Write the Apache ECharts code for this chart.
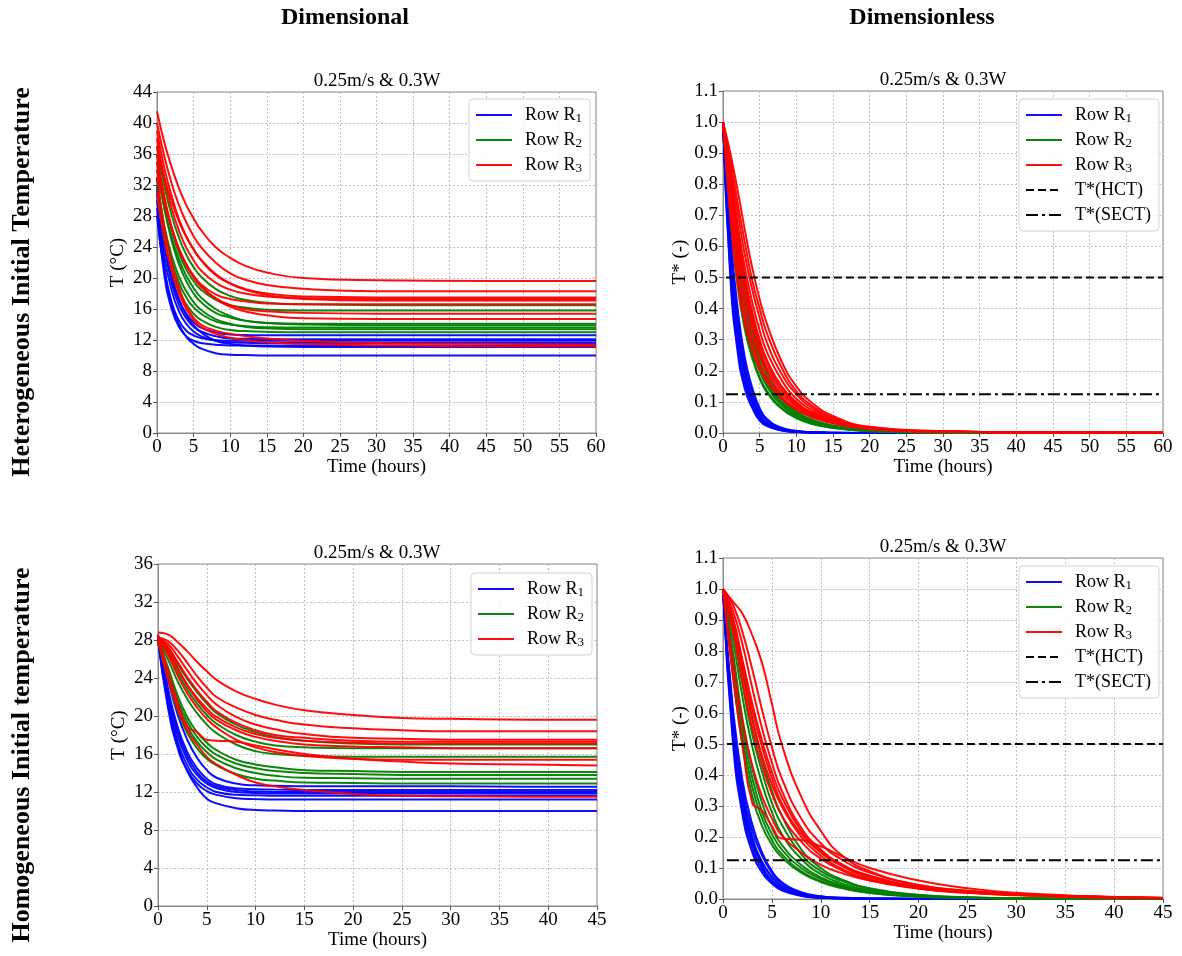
<!DOCTYPE html>
<html>
<head>
<meta charset="utf-8">
<script src="https://cdn.jsdelivr.net/npm/echarts/dist/echarts.min.js"></script>
<style>
html,body{margin:0;padding:0;background:#fff;}
#chart{width:1182px;height:956px;}
</style>
</head>
<body>
<div id="chart"></div>
<script>
// Sampling times (hours)
const heterTime = [0, 1, 2, 3, 4, 5, 6, 8, 10, 12, 15, 20, 30, 45, 60];
const homoTime  = [0, 1, 2, 3, 4, 5, 6, 8, 10, 12, 15, 20, 25, 30, 38, 45];

// Heterogeneous initial temperature, dimensional T (°C)
const hetDimRow1 = [
  [33.0, 25.0, 20.1, 17.2, 15.4, 14.3, 13.6, 13.0, 12.7, 12.65, 12.6, 12.6, 12.6, 12.6, 12.6],
  [32.0, 24.2, 19.4, 16.5, 14.8, 13.7, 13.1, 12.5, 12.2, 12.15, 12.1, 12.1, 12.1, 12.1, 12.1],
  [31.0, 21.7, 16.9, 14.5, 13.2, 12.6, 12.25, 12.0, 11.9, 11.9, 11.9, 11.9, 11.9, 11.9, 11.9],
  [30.0, 22.8, 18.4, 15.7, 14.1, 13.1, 12.5, 11.9, 11.7, 11.65, 11.6, 11.6, 11.6, 11.6, 11.6],
  [29.0, 20.4, 16.0, 13.7, 12.5, 11.9, 11.6, 11.4, 11.3, 11.3, 11.3, 11.3, 11.3, 11.3, 11.3],
  [31.5, 24.8, 20.3, 17.2, 15.2, 13.9, 13.0, 11.9, 11.5, 11.3, 11.15, 11.1, 11.1, 11.1, 11.1],
  [28.0, 20.9, 16.6, 14.0, 12.4, 11.5, 10.9, 10.3, 10.1, 10.05, 10.0, 10.0, 10.0, 10.0, 10.0]
];
const hetDimRow2 = [
  [37.0, 31.9, 28.1, 25.2, 23.0, 21.4, 20.2, 18.6, 17.7, 17.2, 16.8, 16.6, 16.5, 16.5, 16.5],
  [36.0, 30.3, 26.2, 23.2, 21.1, 19.6, 18.5, 17.2, 16.5, 16.2, 15.9, 15.8, 15.8, 15.8, 15.8],
  [35.0, 29.1, 24.8, 21.8, 19.6, 18.0, 16.9, 15.5, 14.9, 14.5, 14.2, 14.1, 14.1, 14.1, 14.1],
  [34.0, 29.0, 25.3, 22.4, 20.3, 18.7, 17.5, 16.0, 15.1, 14.5, 14.2, 14.0, 13.9, 13.9, 13.9],
  [33.0, 26.6, 22.3, 19.4, 17.5, 16.2, 15.4, 14.4, 14.0, 13.8, 13.65, 13.6, 13.6, 13.6, 13.6],
  [32.0, 26.7, 22.9, 20.2, 18.3, 16.9, 15.9, 14.7, 14.1, 13.7, 13.5, 13.4, 13.4, 13.4, 13.4],
  [31.0, 25.1, 21.1, 18.4, 16.6, 15.4, 14.6, 13.7, 13.3, 13.15, 13.05, 13.0, 13.0, 13.0, 13.0]
];
const hetDimRow3 = [
  [41.5, 37.5, 34.3, 31.6, 29.4, 27.7, 26.2, 24.0, 22.6, 21.6, 20.7, 20.0, 19.7, 19.6, 19.6],
  [40.0, 35.7, 32.2, 29.4, 27.2, 25.4, 24.0, 22.0, 20.6, 19.8, 19.1, 18.6, 18.3, 18.3, 18.3],
  [39.0, 34.2, 30.6, 27.6, 25.4, 23.7, 22.3, 20.4, 19.3, 18.6, 18.0, 17.6, 17.5, 17.5, 17.5],
  [38.0, 32.8, 29.0, 26.1, 23.9, 22.3, 21.0, 19.4, 18.5, 18.0, 17.6, 17.4, 17.3, 17.3, 17.3],
  [37.0, 33.0, 29.9, 27.3, 25.3, 23.7, 22.4, 20.5, 19.3, 18.5, 17.8, 17.3, 17.1, 17.1, 17.1],
  [36.0, 30.5, 26.6, 23.7, 21.7, 20.3, 19.2, 17.9, 17.3, 17.0, 16.7, 16.6, 16.6, 16.6, 16.6],
  [35.0, 30.1, 26.5, 23.7, 21.7, 20.1, 18.9, 17.4, 16.5, 16.0, 15.7, 15.5, 15.4, 15.4, 15.4],
  [34.0, 29.7, 26.4, 23.8, 21.8, 20.2, 19.0, 17.3, 16.3, 15.7, 15.2, 14.8, 14.7, 14.7, 14.7],
  [33.0, 26.5, 22.0, 18.8, 16.4, 14.9, 14.0, 13.2, 12.8, 12.5, 12.2, 11.9, 11.6, 11.5, 11.4],
  [31.0, 25.0, 21.0, 18.0, 16.0, 14.6, 13.7, 12.8, 12.3, 12.0, 11.7, 11.5, 11.3, 11.2, 11.2]
];

// Heterogeneous initial temperature, dimensionless T* (-)
const hetStarRow1 = [
  [1.0, 0.62, 0.37, 0.22, 0.13, 0.07, 0.04, 0.015, 0.006, 0.003, 0.001, 0, 0, 0, 0],
  [1.0, 0.59, 0.35, 0.20, 0.115, 0.06, 0.033, 0.012, 0.005, 0.002, 0.001, 0, 0, 0, 0],
  [1.0, 0.55, 0.31, 0.17, 0.10, 0.052, 0.028, 0.010, 0.004, 0.002, 0, 0, 0, 0, 0],
  [1.0, 0.52, 0.28, 0.155, 0.09, 0.045, 0.025, 0.009, 0.003, 0.001, 0, 0, 0, 0, 0],
  [1.0, 0.50, 0.26, 0.14, 0.08, 0.04, 0.022, 0.008, 0.003, 0.001, 0, 0, 0, 0, 0],
  [1.0, 0.64, 0.40, 0.24, 0.145, 0.08, 0.045, 0.017, 0.007, 0.003, 0.001, 0, 0, 0, 0],
  [1.0, 0.57, 0.33, 0.19, 0.105, 0.055, 0.030, 0.011, 0.004, 0.002, 0, 0, 0, 0, 0]
];
const hetStarRow2 = [
  [1.0, 0.84, 0.66, 0.49, 0.37, 0.27, 0.20, 0.115, 0.07, 0.045, 0.024, 0.010, 0.002, 0.001, 0],
  [1.0, 0.80, 0.60, 0.44, 0.32, 0.23, 0.17, 0.10, 0.062, 0.040, 0.022, 0.009, 0.002, 0.001, 0],
  [1.0, 0.78, 0.57, 0.41, 0.30, 0.22, 0.16, 0.095, 0.058, 0.037, 0.020, 0.008, 0.002, 0, 0],
  [1.0, 0.75, 0.53, 0.38, 0.27, 0.20, 0.15, 0.088, 0.054, 0.034, 0.018, 0.007, 0.002, 0, 0],
  [1.0, 0.72, 0.50, 0.35, 0.25, 0.18, 0.135, 0.080, 0.050, 0.032, 0.017, 0.006, 0.001, 0, 0],
  [1.0, 0.70, 0.47, 0.33, 0.24, 0.175, 0.13, 0.078, 0.048, 0.030, 0.016, 0.006, 0.001, 0, 0],
  [1.0, 0.82, 0.63, 0.47, 0.34, 0.25, 0.185, 0.110, 0.067, 0.043, 0.023, 0.009, 0.002, 0.001, 0]
];
const hetStarRow3 = [
  [1.0, 0.90, 0.78, 0.65, 0.53, 0.43, 0.35, 0.23, 0.15, 0.10, 0.055, 0.020, 0.006, 0.002, 0.001],
  [1.0, 0.88, 0.74, 0.61, 0.49, 0.40, 0.32, 0.21, 0.135, 0.09, 0.050, 0.019, 0.006, 0.002, 0.001],
  [1.0, 0.86, 0.71, 0.57, 0.46, 0.37, 0.29, 0.19, 0.125, 0.083, 0.047, 0.018, 0.005, 0.002, 0.001],
  [1.0, 0.84, 0.67, 0.53, 0.42, 0.33, 0.26, 0.17, 0.11, 0.075, 0.043, 0.017, 0.005, 0.002, 0.001],
  [1.0, 0.82, 0.64, 0.50, 0.39, 0.30, 0.235, 0.15, 0.10, 0.068, 0.040, 0.016, 0.005, 0.002, 0.001],
  [1.0, 0.79, 0.60, 0.46, 0.35, 0.27, 0.21, 0.135, 0.09, 0.062, 0.036, 0.015, 0.005, 0.002, 0.001],
  [1.0, 0.76, 0.56, 0.42, 0.32, 0.25, 0.195, 0.125, 0.085, 0.058, 0.034, 0.014, 0.004, 0.002, 0.001],
  [1.0, 0.73, 0.52, 0.38, 0.29, 0.22, 0.175, 0.115, 0.078, 0.054, 0.032, 0.013, 0.004, 0.002, 0.001],
  [1.0, 0.70, 0.48, 0.35, 0.265, 0.205, 0.165, 0.11, 0.075, 0.052, 0.031, 0.013, 0.004, 0.002, 0.001],
  [1.0, 0.80, 0.62, 0.48, 0.37, 0.29, 0.225, 0.145, 0.095, 0.065, 0.038, 0.015, 0.005, 0.002, 0.001]
];

// Homogeneous initial temperature, dimensional T (°C)
const homDimRow1 = [
  [28.5, 24.0, 20.2, 17.5, 15.6, 14.3, 13.5, 12.9, 12.7, 12.65, 12.6, 12.6, 12.6, 12.6, 12.55, 12.55],
  [28.4, 23.0, 18.9, 16.2, 14.5, 13.4, 12.8, 12.4, 12.3, 12.25, 12.2, 12.2, 12.2, 12.2, 12.2, 12.2],
  [28.3, 22.3, 18.0, 15.4, 13.8, 12.9, 12.4, 12.0, 11.9, 11.85, 11.85, 11.85, 11.85, 11.85, 11.85, 11.85],
  [28.2, 21.6, 17.3, 14.8, 13.3, 12.5, 12.0, 11.7, 11.65, 11.6, 11.6, 11.6, 11.6, 11.6, 11.6, 11.6],
  [28.1, 21.0, 16.7, 14.3, 12.9, 12.1, 11.7, 11.35, 11.25, 11.2, 11.2, 11.2, 11.2, 11.2, 11.2, 11.2],
  [28.0, 21.5, 17.0, 14.2, 12.5, 11.3, 10.8, 10.3, 10.1, 10.05, 10.0, 10.0, 10.0, 10.0, 10.0, 10.0],
  [28.6, 22.7, 18.5, 15.8, 14.1, 13.1, 12.6, 12.2, 12.05, 12.0, 12.0, 12.0, 12.0, 12.0, 12.0, 12.0]
];
const homDimRow2 = [
  [28.3, 27.2, 25.5, 23.9, 22.5, 21.3, 20.3, 19.1, 18.3, 17.8, 17.4, 17.1, 17.0, 17.0, 17.0, 17.0],
  [28.2, 26.6, 24.6, 22.8, 21.3, 20.1, 19.2, 18.0, 17.3, 16.9, 16.7, 16.6, 16.6, 16.6, 16.6, 16.6],
  [28.1, 26.0, 23.7, 21.8, 20.3, 19.1, 18.2, 17.0, 16.3, 16.0, 15.8, 15.7, 15.7, 15.7, 15.7, 15.7],
  [28.0, 25.2, 22.2, 19.9, 18.3, 17.2, 16.4, 15.4, 14.9, 14.6, 14.3, 14.2, 14.1, 14.1, 14.1, 14.1],
  [28.0, 24.8, 21.7, 19.4, 17.8, 16.7, 15.9, 15.0, 14.5, 14.2, 14.0, 13.9, 13.8, 13.8, 13.8, 13.8],
  [27.9, 24.5, 21.3, 18.9, 17.3, 16.2, 15.4, 14.5, 14.0, 13.7, 13.5, 13.45, 13.4, 13.4, 13.4, 13.4],
  [27.8, 24.0, 20.6, 18.2, 16.6, 15.5, 14.8, 13.9, 13.4, 13.2, 13.0, 12.95, 12.9, 12.9, 12.9, 12.9]
];
const homDimRow3 = [
  [28.8, 28.6, 27.8, 26.8, 25.7, 24.7, 23.8, 22.6, 21.8, 21.2, 20.6, 20.1, 19.8, 19.7, 19.6, 19.6],
  [28.3, 27.9, 26.9, 25.6, 24.2, 23.0, 22.0, 20.9, 20.1, 19.6, 19.1, 18.7, 18.5, 18.4, 18.4, 18.4],
  [28.2, 27.6, 26.3, 24.8, 23.4, 22.2, 21.2, 19.9, 19.1, 18.6, 18.1, 17.7, 17.6, 17.5, 17.5, 17.5],
  [28.3, 27.3, 25.7, 24.1, 22.7, 21.5, 20.5, 19.3, 18.5, 18.0, 17.7, 17.4, 17.3, 17.3, 17.3, 17.3],
  [28.0, 26.8, 25.0, 23.3, 21.9, 20.8, 19.9, 18.8, 18.1, 17.7, 17.4, 17.2, 17.1, 17.1, 17.1, 17.1],
  [28.2, 26.5, 24.3, 22.4, 20.9, 19.7, 18.8, 17.5, 16.7, 16.2, 15.8, 15.5, 15.4, 15.4, 15.4, 15.4],
  [28.5, 24.8, 21.5, 18.9, 18.3, 17.5, 17.4, 17.3, 16.9, 16.5, 16.0, 15.5, 15.2, 15.0, 14.9, 14.8],
  [28.0, 24.0, 20.8, 18.5, 17.0, 15.7, 14.9, 13.8, 13.0, 12.6, 12.2, 11.8, 11.6, 11.55, 11.5, 11.5],
  [28.1, 27.0, 25.1, 23.2, 21.7, 20.5, 19.6, 18.5, 17.8, 17.4, 17.0, 16.8, 16.7, 16.6, 16.6, 16.6]
];

// Homogeneous initial temperature, dimensionless T* (-)
const homStarRow1 = [
  [1.0, 0.60, 0.36, 0.22, 0.14, 0.085, 0.05, 0.02, 0.008, 0.004, 0.002, 0.001, 0, 0, 0, 0],
  [1.0, 0.57, 0.33, 0.19, 0.115, 0.07, 0.04, 0.015, 0.006, 0.003, 0.001, 0, 0, 0, 0, 0],
  [1.0, 0.55, 0.31, 0.18, 0.105, 0.06, 0.035, 0.013, 0.005, 0.002, 0.001, 0, 0, 0, 0, 0],
  [1.0, 0.53, 0.29, 0.165, 0.095, 0.055, 0.032, 0.011, 0.004, 0.002, 0, 0, 0, 0, 0, 0],
  [1.0, 0.51, 0.27, 0.15, 0.085, 0.05, 0.028, 0.010, 0.004, 0.002, 0, 0, 0, 0, 0, 0],
  [1.0, 0.62, 0.38, 0.24, 0.15, 0.09, 0.055, 0.022, 0.009, 0.004, 0.002, 0.001, 0, 0, 0, 0],
  [1.0, 0.58, 0.34, 0.20, 0.12, 0.073, 0.043, 0.017, 0.007, 0.003, 0.001, 0, 0, 0, 0, 0]
];
const homStarRow2 = [
  [1.0, 0.90, 0.74, 0.58, 0.45, 0.35, 0.27, 0.16, 0.10, 0.065, 0.035, 0.014, 0.006, 0.003, 0.001, 0],
  [1.0, 0.87, 0.69, 0.53, 0.41, 0.31, 0.24, 0.145, 0.09, 0.06, 0.032, 0.012, 0.005, 0.002, 0.001, 0],
  [1.0, 0.84, 0.65, 0.49, 0.37, 0.28, 0.21, 0.13, 0.08, 0.052, 0.028, 0.011, 0.004, 0.002, 0, 0],
  [1.0, 0.80, 0.58, 0.42, 0.31, 0.23, 0.175, 0.11, 0.07, 0.046, 0.025, 0.010, 0.004, 0.002, 0, 0],
  [1.0, 0.78, 0.55, 0.39, 0.28, 0.21, 0.16, 0.10, 0.065, 0.042, 0.023, 0.009, 0.004, 0.002, 0, 0],
  [1.0, 0.76, 0.52, 0.36, 0.26, 0.19, 0.145, 0.09, 0.058, 0.038, 0.020, 0.008, 0.003, 0.001, 0, 0],
  [1.0, 0.73, 0.49, 0.33, 0.235, 0.175, 0.135, 0.085, 0.055, 0.036, 0.019, 0.007, 0.003, 0.001, 0, 0]
];
const homStarRow3 = [
  [1.0, 0.96, 0.92, 0.85, 0.76, 0.63, 0.50, 0.33, 0.22, 0.145, 0.09, 0.045, 0.025, 0.014, 0.006, 0.003],
  [1.0, 0.95, 0.86, 0.74, 0.61, 0.49, 0.39, 0.26, 0.18, 0.13, 0.085, 0.045, 0.027, 0.016, 0.007, 0.003],
  [1.0, 0.93, 0.82, 0.68, 0.55, 0.44, 0.35, 0.23, 0.16, 0.115, 0.075, 0.04, 0.025, 0.015, 0.007, 0.003],
  [1.0, 0.91, 0.77, 0.63, 0.51, 0.41, 0.33, 0.22, 0.155, 0.11, 0.07, 0.038, 0.024, 0.015, 0.007, 0.003],
  [1.0, 0.89, 0.73, 0.58, 0.46, 0.37, 0.30, 0.20, 0.14, 0.10, 0.065, 0.035, 0.022, 0.014, 0.006, 0.003],
  [1.0, 0.87, 0.70, 0.55, 0.43, 0.34, 0.27, 0.185, 0.13, 0.095, 0.06, 0.033, 0.02, 0.013, 0.006, 0.003],
  [1.0, 0.72, 0.50, 0.31, 0.285, 0.235, 0.195, 0.19, 0.17, 0.14, 0.10, 0.06, 0.035, 0.02, 0.008, 0.003],
  [1.0, 0.77, 0.57, 0.43, 0.33, 0.26, 0.205, 0.15, 0.11, 0.085, 0.06, 0.035, 0.02, 0.012, 0.005, 0.002],
  [1.0, 0.90, 0.76, 0.61, 0.49, 0.39, 0.31, 0.21, 0.15, 0.11, 0.075, 0.04, 0.026, 0.016, 0.008, 0.004]
];

// Threshold levels of the dimensionless temperature
const hctLevel = 0.5;
const sectLevel = 0.125;
const thresholdStart = 0.4;

const rowNames = ['Row R1', 'Row R2', 'Row R3'];
const rowColors = ['#0000ff', '#008000', '#ff0000'];
const panelTitle = '0.25m/s & 0.3W';
const serif = '"Liberation Serif", "DejaVu Serif", serif';

const panels = [
  { grid: { left: 157, top: 92, width: 439, height: 341 }, time: heterTime, rows: [hetDimRow1, hetDimRow2, hetDimRow3],
    xMax: 60, yMax: 44, yInterval: 4, yDigits: 0, yName: 'T (°C)', yNameGap: 29, thresholds: false,
    titleX: 377, titleY: 81, legend: { left: 469, top: 99 } },
  { grid: { left: 723, top: 91, width: 440, height: 342 }, time: heterTime, rows: [hetStarRow1, hetStarRow2, hetStarRow3],
    xMax: 60, yMax: 1.1, yInterval: 0.1, yDigits: 1, yName: 'T* (-)', yNameGap: 33, thresholds: true,
    titleX: 943, titleY: 80, legend: { left: 1019, top: 99 } },
  { grid: { left: 158, top: 564, width: 439, height: 342 }, time: homoTime, rows: [homDimRow1, homDimRow2, homDimRow3],
    xMax: 45, yMax: 36, yInterval: 4, yDigits: 0, yName: 'T (°C)', yNameGap: 29, thresholds: false,
    titleX: 377, titleY: 553, legend: { left: 471, top: 573 } },
  { grid: { left: 723, top: 558, width: 440, height: 341 }, time: homoTime, rows: [homStarRow1, homStarRow2, homStarRow3],
    xMax: 45, yMax: 1.1, yInterval: 0.1, yDigits: 1, yName: 'T* (-)', yNameGap: 33, thresholds: true,
    titleX: 943, titleY: 547, legend: { left: 1019, top: 566 } }
];

const axisColor = '#8a8a8a';
const gridLine = { show: true, lineStyle: { color: '#b0b0b0', width: 0.8, type: [2, 2] } };
const labelStyle = { color: '#000', fontFamily: serif, fontSize: 19 };

const grids = [], xAxes = [], yAxes = [], series = [], legends = [], graphics = [];

panels.forEach((p, k) => {
  grids.push(Object.assign({ show: true, borderColor: axisColor, borderWidth: 1, backgroundColor: '#fff' }, p.grid));
  xAxes.push({
    type: 'value', gridIndex: k, min: 0, max: p.xMax, interval: 5,
    name: 'Time (hours)', nameLocation: 'middle', nameGap: 24,
    nameTextStyle: labelStyle,
    axisLine: { show: true, onZero: false, lineStyle: { color: axisColor } },
    axisTick: { show: true, length: 4, lineStyle: { color: '#555' } },
    axisLabel: Object.assign({ margin: 5 }, labelStyle),
    splitLine: gridLine
  });
  yAxes.push({
    type: 'value', gridIndex: k, min: 0, max: p.yMax, interval: p.yInterval,
    name: p.yName, nameLocation: 'middle', nameGap: p.yNameGap, nameRotate: 90,
    nameTextStyle: labelStyle,
    axisLine: { show: true, onZero: false, lineStyle: { color: axisColor } },
    axisTick: { show: true, length: 4, lineStyle: { color: '#555' } },
    axisLabel: Object.assign({ margin: 5, formatter: v => v.toFixed(p.yDigits) }, labelStyle),
    splitLine: gridLine
  });

  p.rows.forEach((group, r) => {
    group.forEach(vals => {
      series.push({
        type: 'line', name: rowNames[r], xAxisIndex: k, yAxisIndex: k,
        data: p.time.map((t, i) => [t, vals[i]]),
        symbol: 'none', showSymbol: false, smooth: 0.5,
        lineStyle: { color: rowColors[r], width: 2, opacity: 0.95 },
        itemStyle: { color: rowColors[r] },
        silent: true, z: 2 + r
      });
    });
  });

  const legendNames = rowNames.slice();
  if (p.thresholds) {
    series.push({
      type: 'line', name: 'T*(HCT)', xAxisIndex: k, yAxisIndex: k,
      data: [[thresholdStart, hctLevel], [p.xMax, hctLevel]],
      symbol: 'none', lineStyle: { color: '#000', width: 2, type: [8, 4] },
      itemStyle: { color: '#000' }, silent: true, z: 6
    });
    series.push({
      type: 'line', name: 'T*(SECT)', xAxisIndex: k, yAxisIndex: k,
      data: [[thresholdStart, sectLevel], [p.xMax, sectLevel]],
      symbol: 'none', lineStyle: { color: '#000', width: 2, type: [12, 4, 3, 4] },
      itemStyle: { color: '#000' }, silent: true, z: 6
    });
    legendNames.push('T*(HCT)', 'T*(SECT)');
  }

  legends.push({
    left: p.legend.left, top: p.legend.top, orient: 'vertical',
    data: legendNames, selectedMode: false,
    itemWidth: 36, itemHeight: 14, itemGap: 5,
    padding: [6, 8, 6, 6],
    borderColor: '#d4d4d4', borderWidth: 1, borderRadius: 4,
    backgroundColor: 'rgba(255,255,255,0.85)',
    itemStyle: { opacity: 0 },
    lineStyle: { width: 2 },
    formatter: name => name.startsWith('Row R') ? 'Row R{sub|' + name.slice(5) + '}' : name,
    textStyle: {
      color: '#000', fontFamily: serif, fontSize: 18, lineHeight: 20, padding: [0, 0, 0, 8],
      rich: { sub: { fontFamily: serif, fontSize: 13, lineHeight: 9, verticalAlign: 'bottom', color: '#000' } }
    }
  });

  graphics.push({
    type: 'text', x: p.titleX, y: p.titleY, silent: true,
    style: { text: panelTitle, font: '19px ' + serif, fill: '#000', textAlign: 'center', textVerticalAlign: 'middle' }
  });
});

// Column headers and row labels
const headerFont = 'bold 24px ' + serif;
const rowLabelFont = 'bold 26px ' + serif;
graphics.push(
  { type: 'text', x: 345, y: 18, silent: true, style: { text: 'Dimensional', font: headerFont, fill: '#000', textAlign: 'center', textVerticalAlign: 'middle' } },
  { type: 'text', x: 922, y: 18, silent: true, style: { text: 'Dimensionless', font: headerFont, fill: '#000', textAlign: 'center', textVerticalAlign: 'middle' } },
  { type: 'text', x: 22, y: 282, rotation: Math.PI / 2, silent: true, style: { text: 'Heterogeneous Initial Temperature', font: rowLabelFont, fill: '#000', textAlign: 'center', textVerticalAlign: 'middle' } },
  { type: 'text', x: 22, y: 755, rotation: Math.PI / 2, silent: true, style: { text: 'Homogeneous Initial temperature', font: rowLabelFont, fill: '#000', textAlign: 'center', textVerticalAlign: 'middle' } }
);

const chart = echarts.init(document.getElementById('chart'), null, { renderer: 'canvas' });
chart.setOption({
  animation: false,
  backgroundColor: '#fff',
  grid: grids,
  xAxis: xAxes,
  yAxis: yAxes,
  legend: legends,
  series: series,
  graphic: graphics
});
</script>
</body>
</html>
